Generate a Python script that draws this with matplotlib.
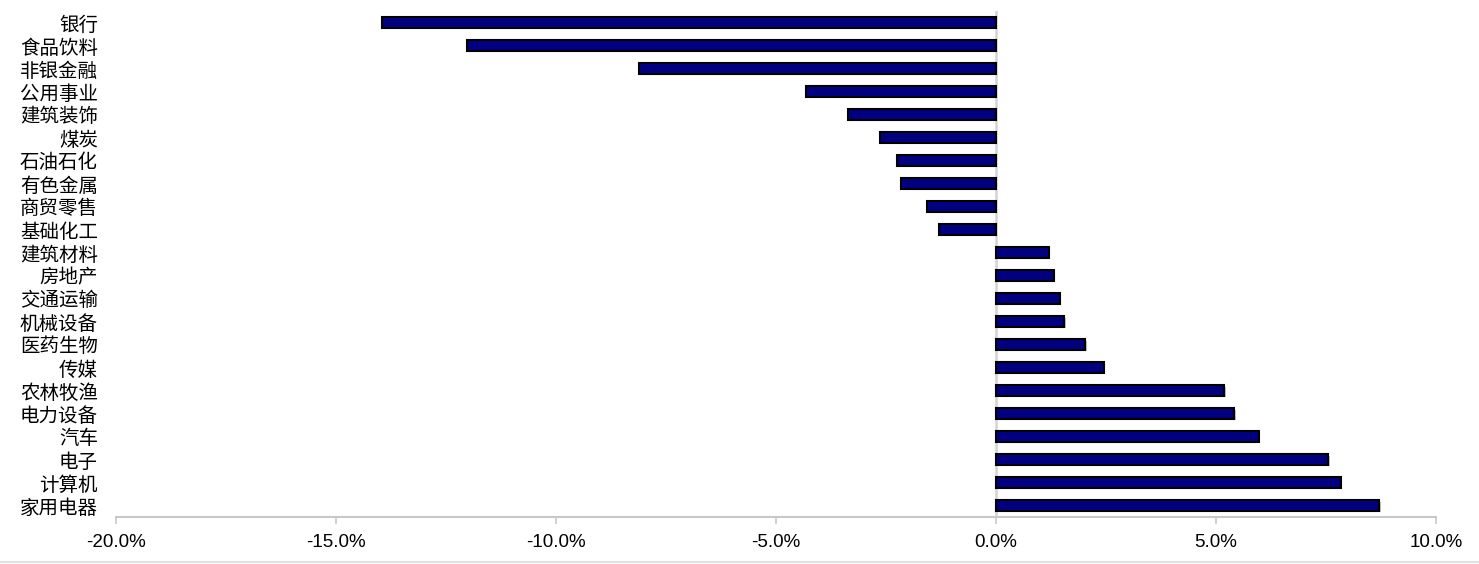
import matplotlib
matplotlib.use("Agg")
from matplotlib import pyplot as plt
from matplotlib.lines import Line2D
from matplotlib.ticker import FuncFormatter, MultipleLocator
import matplotlib.patheffects as pe

plt.rcParams['font.family'] = ['Noto Sans CJK SC', 'DejaVu Sans']

# industries, top to bottom, and their return (%)
industries = ['银行', '食品饮料', '非银金融', '公用事业', '建筑装饰', '煤炭', '石油石化',
              '有色金属', '商贸零售', '基础化工', '建筑材料', '房地产', '交通运输',
              '机械设备', '医药生物', '传媒', '农林牧渔', '电力设备', '汽车', '电子',
              '计算机', '家用电器']
returns = [-13.95, -12.02, -8.11, -4.32, -3.36, -2.64, -2.25,
           -2.17, -1.56, -1.29, 1.20, 1.31, 1.45,
           1.55, 2.03, 2.45, 5.19, 5.42, 5.97, 7.55,
           7.83, 8.71]

fig = plt.figure(figsize=(14.79, 5.64), dpi=100)
ax = fig.add_axes([116/1479, 47/564, 1320/1479, 506/564])

ypos = list(range(len(industries)))
ax.barh(ypos, returns, height=0.45, color='#000080', edgecolor='black', linewidth=1.5,
        path_effects=[pe.SimplePatchShadow(offset=(1, -1), shadow_rgbFace='#999999', alpha=0.6),
                      pe.Normal()], zorder=3)

ax.axvline(0, color='#d4d4d4', linewidth=1.8, zorder=1)

ax.set_ylim(len(industries) - 0.5, -0.5)
ax.set_xlim(-20, 10)
ax.xaxis.set_major_locator(MultipleLocator(5))
ax.xaxis.set_major_formatter(FuncFormatter(lambda v, p: '{:.1f}%'.format(v)))

ax.set_yticks(ypos)
ax.set_yticklabels(industries, fontsize=14)
ax.tick_params(axis='y', length=0, pad=13)
ax.tick_params(axis='x', direction='out', length=5, width=1.2, color='#c8c8c8',
               labelsize=13.5, pad=7)
for lab in ax.get_xticklabels():
    lab.set_fontfamily(['Liberation Sans', 'DejaVu Sans'])

for s in ['top', 'right', 'left']:
    ax.spines[s].set_visible(False)
ax.spines['bottom'].set_color('#c8c8c8')
ax.spines['bottom'].set_linewidth(1.5)

# faint separator at the very bottom
fig.add_artist(Line2D([0, 1], [2/564, 2/564], color='#e0e0e0', linewidth=1.5))

fig.savefig('out.png', dpi=100)
